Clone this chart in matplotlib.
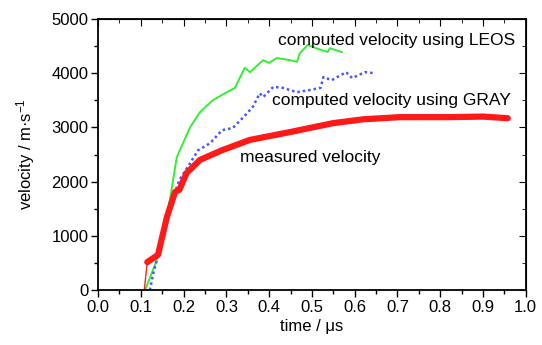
import matplotlib
matplotlib.use("Agg")
import matplotlib.pyplot as plt
from matplotlib.ticker import MultipleLocator

plt.rcParams['font.family'] = ['Liberation Sans', 'DejaVu Sans']
plt.rcParams['mathtext.fontset'] = 'custom'
plt.rcParams['mathtext.rm'] = 'Liberation Sans'
plt.rcParams['mathtext.it'] = 'Liberation Sans:italic'

# measured velocity
meas_t = [0.115, 0.14, 0.161, 0.18, 0.19, 0.207, 0.238, 0.29, 0.355, 0.449, 0.55, 0.62, 0.706, 0.82, 0.90, 0.958]
meas_v = [517, 650, 1350, 1810, 1850, 2160, 2400, 2580, 2770, 2915, 3080, 3150, 3190, 3190, 3200, 3170]
meas_start_t = [0.108, 0.115]
meas_start_v = [0, 517]

# LEOS computed velocity
leos_t = [0.11, 0.137, 0.16, 0.184, 0.215, 0.238, 0.268, 0.29, 0.32, 0.343, 0.355, 0.386, 0.40, 0.418, 0.449,
          0.465, 0.472, 0.49, 0.51, 0.537, 0.542, 0.57]
leos_v = [0, 550, 1290, 2450, 3000, 3280, 3500, 3600, 3730, 4100, 4020, 4240, 4190, 4280, 4240,
          4210, 4370, 4520, 4460, 4390, 4460, 4390]

# GRAY computed velocity
gray_t = [0.121, 0.129, 0.15, 0.173, 0.19, 0.215, 0.234, 0.262, 0.29, 0.315, 0.34, 0.362, 0.378, 0.386, 0.41,
          0.432, 0.465, 0.495, 0.52, 0.527, 0.546, 0.58, 0.594, 0.624, 0.647]
gray_v = [0, 310, 920, 1660, 2030, 2340, 2580, 2710, 2950, 2990, 3190, 3380, 3630, 3560, 3750,
          3730, 3650, 3690, 3730, 3930, 3870, 4020, 3910, 4020, 4000]

FS = 12
FS_ANN = 12.5

fig = plt.figure(figsize=(5.42, 3.45), dpi=100)
ax = fig.add_axes([0.181, 0.159, 0.789, 0.786])

ax.plot(leos_t, leos_v, color='#33ee33', lw=1.4)
ax.plot(gray_t, gray_v, color='#4455ff', lw=1.8, ls=(0, (1, 1.2)))
ax.plot(meas_start_t, meas_start_v, color='#ff2020', lw=1.0)
ax.plot(meas_t, meas_v, color='#ff1a1a', lw=4.5, solid_capstyle='round')

ax.text(0.42, 4610, 'computed velocity using LEOS', fontsize=FS_ANN, va='center', ha='left')
ax.text(0.407, 3500, 'computed velocity using GRAY', fontsize=FS_ANN, va='center', ha='left')
ax.text(0.332, 2450, 'measured velocity', fontsize=FS_ANN, va='center', ha='left')

ax.set_xlim(0, 1.0)
ax.set_ylim(0, 5000)
ax.xaxis.set_major_locator(MultipleLocator(0.1))
ax.xaxis.set_minor_locator(MultipleLocator(0.05))
ax.yaxis.set_major_locator(MultipleLocator(1000))
ax.yaxis.set_minor_locator(MultipleLocator(500))
ax.xaxis.set_major_formatter(matplotlib.ticker.FormatStrFormatter('%.1f'))
ax.tick_params(which='both', direction='out', labelsize=FS, width=1.0, pad=2)
ax.tick_params(which='major', length=5)
ax.tick_params(which='minor', length=3)

ax2 = ax.secondary_xaxis('top')
ax2.xaxis.set_major_locator(MultipleLocator(0.1))
ax2.xaxis.set_minor_locator(MultipleLocator(0.05))
ax2.tick_params(which='both', direction='in', labeltop=False)
ax2.tick_params(which='major', length=5)
ax2.tick_params(which='minor', length=3)
ax3 = ax.secondary_yaxis('right')
ax3.yaxis.set_major_locator(MultipleLocator(1000))
ax3.yaxis.set_minor_locator(MultipleLocator(500))
ax3.tick_params(which='both', direction='in', labelright=False)
ax3.tick_params(which='major', length=5)
ax3.tick_params(which='minor', length=3)

for s in ax.spines.values():
    s.set_linewidth(1.3)

ax.set_xlabel('time / μs', fontsize=FS, labelpad=3)
ax.set_ylabel('velocity / m·s$^{-1}$', fontsize=FS, labelpad=10)

fig.savefig('out.png', dpi=100)
